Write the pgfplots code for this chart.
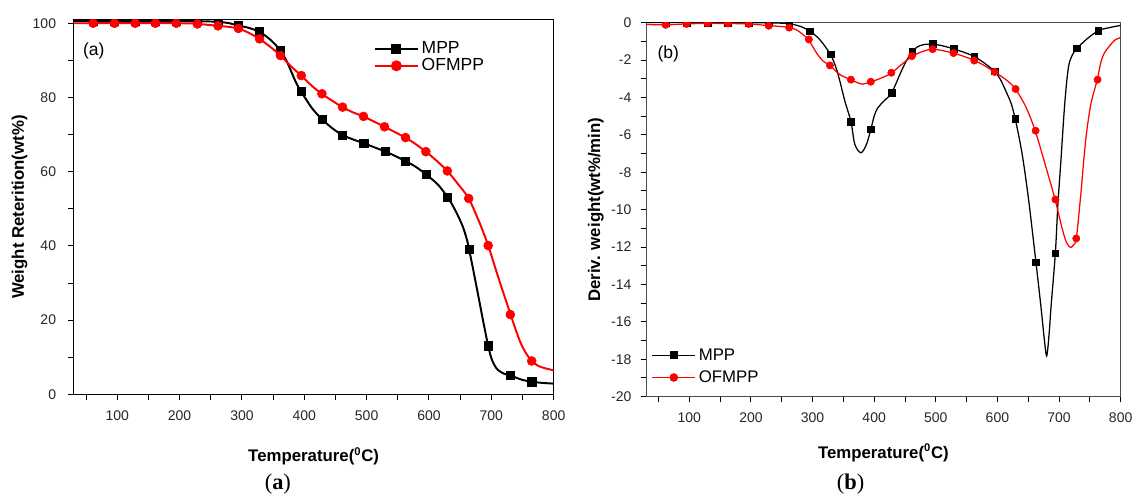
\documentclass[border=0pt]{standalone}
\usepackage{fontspec}
\setmainfont{Liberation Sans}
\newfontfamily\capserif{Liberation Serif}
\usepackage{pgfplots}
\pgfplotsset{compat=1.18}

\pgfplotsset{
  tgbase/.style={
    scale only axis,
    xmin=30, xmax=800,
    xtick={100,200,...,800},
    minor xtick={50,150,...,750},
    tick align=outside,
    xtick pos=left, ytick pos=left,
    major tick length=4pt, minor tick length=4pt,
    tick style={black, line width=0.7pt},
    tick label style={font=\fontsize{10}{12}\selectfont, text=black!85},
    /pgf/number format/assume math mode=true,
    xticklabel style={yshift=-4pt},
    yticklabel style={xshift=-5pt},
    label style={font=\bfseries\fontsize{12}{14}\selectfont},
    xlabel={Temperature(\textsuperscript{0}C)},
    clip marker paths=true,
    legend cell align=left,
    legend image code/.code={\draw[mark repeat=2,mark phase=2] plot coordinates {(0cm,0cm) (0.54cm,0cm) (1.08cm,0cm)};},
  },
}

\begin{document}
\begin{tikzpicture}
\path (0,0) rectangle (28.425,12.45);

% ---------- (a) TGA ----------
\begin{axis}[tgbase,
  at={(1.8475cm,2.55cm)}, anchor=south west,
  width=12.05cm, height=9.4cm,
  ymin=0, ymax=100.9,
  ytick={0,20,...,100},
  minor ytick={10,30,50,70,90},
  axis line style={black, line width=0.8pt},
  xlabel style={at={(axis description cs:0.5,-0.179)}, anchor=base},
  ylabel={Weight Reterition(wt\%)},
  ylabel style={at={(axis description cs:-0.1126,0.5)}, anchor=center},
  legend style={draw=none, fill=none, at={(rel axis cs:0.625,0.95)}, anchor=north west,
    font=\fontsize{12.5}{14}\selectfont, row sep=-2pt, inner sep=0pt},
]
\addplot[black, line width=1.4pt, smooth, forget plot] coordinates {
(30,100.6) (100,100.6) (200,100.6) (240,100.5) (262,100.4) (280,100.0) (294,99.4)
(310,98.8) (328,97.7) (346,95.5) (361.5,92.7) (372,89.7) (386,84.3) (395,81.6)
(412,77.2) (428,74.2) (445,71.7) (461,69.9) (478,68.7) (495,67.7) (512,66.6)
(529,65.5) (545,64.3) (562,62.9) (579,61.3) (595,59.3) (614,56.6) (630,53.1)
(640,50.3) (648,47.6) (655,44.9) (661,41.6) (664,39.4) (670,34.4) (680,25.8)
(688,18.8) (695,13.1) (700,9.8) (705,7.9) (710.5,6.6) (720,5.6) (730.6,5.1)
(748,4.0) (765,3.4) (782,3.1) (800,2.9)
};
\addplot[black, only marks, mark=square*, mark size=2.9pt, forget plot] coordinates {
(28,100.6) (61.4,100.6) (95.6,100.6) (128.7,100.6) (161.2,100.6) (194.8,100.6)
(228.5,100.5) (261.6,100.5) (294.5,99.4) (328,97.7) (361.5,92.7) (395,81.6)
(428.3,74.2) (461.4,69.9) (495.5,67.7) (529.5,65.5) (562.5,62.9) (595.8,59.3)
(630,53.1) (664,39.2) (695,13.1) (730.6,5.1) (765,3.4)
};
\addplot[red, line width=1.4pt, smooth, forget plot] coordinates {
(30,100) (200,100) (230,99.8) (262,99.3) (280,99.0) (294,98.6) (310,97.5)
(328,95.8) (345,93.7) (362,91.3) (378,88.5) (395,85.9) (411,83.3) (428,81.0)
(445,79.1) (461,77.4) (478,76.0) (495,74.9) (512,73.5) (529,72.1) (545,70.7)
(562,69.2) (579,67.4) (595,65.4) (612,63.0) (629.5,60.2) (646,56.8) (663.7,52.8)
(681,46.3) (695,40.1) (712,31.1) (731,21.5) (740,17.0) (748,13.5) (756,11.0)
(765,9.0) (775,7.7) (787,7.0) (800,6.5)
};
\addplot[red, only marks, mark=*, mark size=3.2pt, forget plot] coordinates {
(28,100) (61.4,100) (95.6,100) (128.7,100) (161.2,100) (194.8,100)
(228.5,99.8) (261.6,99.3) (294.3,98.6) (328.2,95.8) (361.8,91.3) (395.2,85.9)
(428.3,81.0) (461.4,77.4) (495,74.9) (528.7,72.1) (562.4,69.2) (595,65.4)
(629.5,60.2) (663.7,52.8) (695,40.1) (730.5,21.5) (764.7,9.0)
};
\addlegendimage{black, line width=1.4pt, mark=square*, mark size=2.9pt}
\addlegendentry{MPP}
\addlegendimage{red, line width=1.4pt, mark=*, mark size=3.2pt}
\addlegendentry{OFMPP}
\node[anchor=west, inner sep=0pt, font=\fontsize{12.5}{14}\selectfont] at (rel axis cs:0.019,0.918) {(a)};
\end{axis}

% ---------- (b) DTG ----------
\begin{axis}[tgbase,
  at={(16.22cm,2.4925cm)}, anchor=south west,
  width=11.91cm, height=9.39cm,
  ymin=-20, ymax=0,
  ytick={-20,-18,...,0},
  minor ytick={-19,-17,...,-1},
  axis line style={black!70, line width=0.8pt},
  yticklabel style={xshift=2pt},
  xlabel style={at={(axis description cs:0.5,-0.164)}, anchor=base},
  ylabel={Deriv. weight(wt\%/min)},
  ylabel style={at={(axis description cs:-0.1062,0.5)}, anchor=center},
  legend style={draw=none, fill=none, at={(rel axis cs:0.011,0.137)}, anchor=north west,
    font=\fontsize{12}{14}\selectfont, row sep=2pt, inner sep=0pt},
]
\addplot[black, line width=0.9pt, smooth, forget plot] coordinates {
(30,0) (100,0) (200,0) (240,-0.02) (262,-0.06) (280,-0.2) (295.7,-0.46)
(312,-0.92) (329,-1.7) (338,-2.4) (344.4,-3.14) (352.5,-4.2) (362.4,-5.31)
(368.6,-6.51) (378.5,-6.96) (387.5,-6.51) (394.6,-5.7) (400,-5.0) (405,-4.6)
(414,-4.25) (428.3,-3.75) (444,-2.6) (453,-2.0) (462,-1.56) (470,-1.3)
(480,-1.18) (495.5,-1.15) (512,-1.25) (529.3,-1.41) (545,-1.58) (562.4,-1.81)
(578.7,-2.16) (595.5,-2.61) (605,-3.05) (613.8,-3.67) (622,-4.3) (629,-5.16)
(640,-7.0) (650.5,-9.44) (662.5,-12.81) (671,-15.3) (676,-16.9) (680,-17.82)
(684,-16.6) (687,-15.2) (694,-12.33) (698,-9.8) (703,-7.4) (708,-4.9)
(712,-3.3) (716,-2.25) (722,-1.7) (729,-1.38) (745,-0.88) (763.8,-0.43)
(780,-0.28) (800,-0.15)
};
\addplot[black, only marks, mark=square*, mark size=2.4pt, forget plot] coordinates {
(28,0) (61.6,0) (95.5,0) (129.4,0) (162.7,0) (196,0) (228.8,0) (262,-0.06)
(295.7,-0.46) (329,-1.7) (362.4,-5.31) (394.6,-5.7) (428.3,-3.75) (462,-1.56)
(495.5,-1.15) (529.3,-1.41) (562.4,-1.81) (595.5,-2.61) (629,-5.16)
(662.5,-12.81) (694,-12.33) (729,-1.38) (763.8,-0.43)
};
\addplot[red, line width=0.9pt, smooth, forget plot] coordinates {
(30,-0.1) (62,-0.12) (95.5,-0.07) (129,-0.04) (163,-0.05) (196,-0.07)
(228.6,-0.16) (245,-0.2) (262,-0.26) (274,-0.39) (283,-0.6) (293.3,-0.92)
(306.7,-1.63) (317.5,-2.07) (328.2,-2.29) (344.4,-2.78) (362.2,-3.05)
(379.4,-3.28) (394.5,-3.17) (411.8,-2.96) (427.9,-2.7) (444,-2.25)
(461.4,-1.81) (478,-1.55) (494.2,-1.42) (511,-1.5) (528.6,-1.63) (545,-1.8)
(562.6,-2.02) (579,-2.3) (594.9,-2.63) (613.8,-3.05) (628.8,-3.53) (646,-4.5)
(661.2,-5.77) (678.5,-7.7) (693.5,-9.44) (705,-11.0) (712,-11.75)
(718.5,-12.02) (723,-11.9) (728,-11.54) (735,-9.3) (740,-7.4) (745,-5.8)
(752,-4.3) (762,-3.05) (768,-2.1) (774,-1.6) (782,-1.25) (790,-0.95) (800,-0.8)
};
\addplot[red, only marks, mark=*, mark size=2.6pt, forget plot] coordinates {
(28,-0.1) (61.6,-0.12) (95.5,-0.07) (129.4,-0.04) (162.7,-0.05) (196,-0.07)
(228.8,-0.17) (262,-0.27) (294,-0.9) (328.2,-2.29) (362.2,-3.05) (394.6,-3.16)
(427.9,-2.68) (461.2,-1.79) (494.8,-1.42) (528.7,-1.63) (562.4,-2.03)
(595.5,-2.64) (629.5,-3.55) (662,-5.78) (694.2,-9.46) (728,-11.54) (762.5,-3.05)
};
\addlegendimage{black, line width=0.9pt, mark=square*, mark size=2.4pt}
\addlegendentry{MPP}
\addlegendimage{red, line width=0.9pt, mark=*, mark size=2.6pt}
\addlegendentry{OFMPP}
\node[anchor=west, inner sep=0pt, font=\fontsize{12.5}{14}\selectfont] at (rel axis cs:0.0235,0.915) {(b)};
\end{axis}

% sub-figure captions
\node[anchor=base, font=\capserif\fontsize{16}{18}\selectfont] at (6.975,0.1575) {(\textbf{a})};
\node[anchor=base, font=\capserif\fontsize{16}{18}\selectfont] at (21.35,0.1575) {(\textbf{b})};
\end{tikzpicture}
\end{document}
